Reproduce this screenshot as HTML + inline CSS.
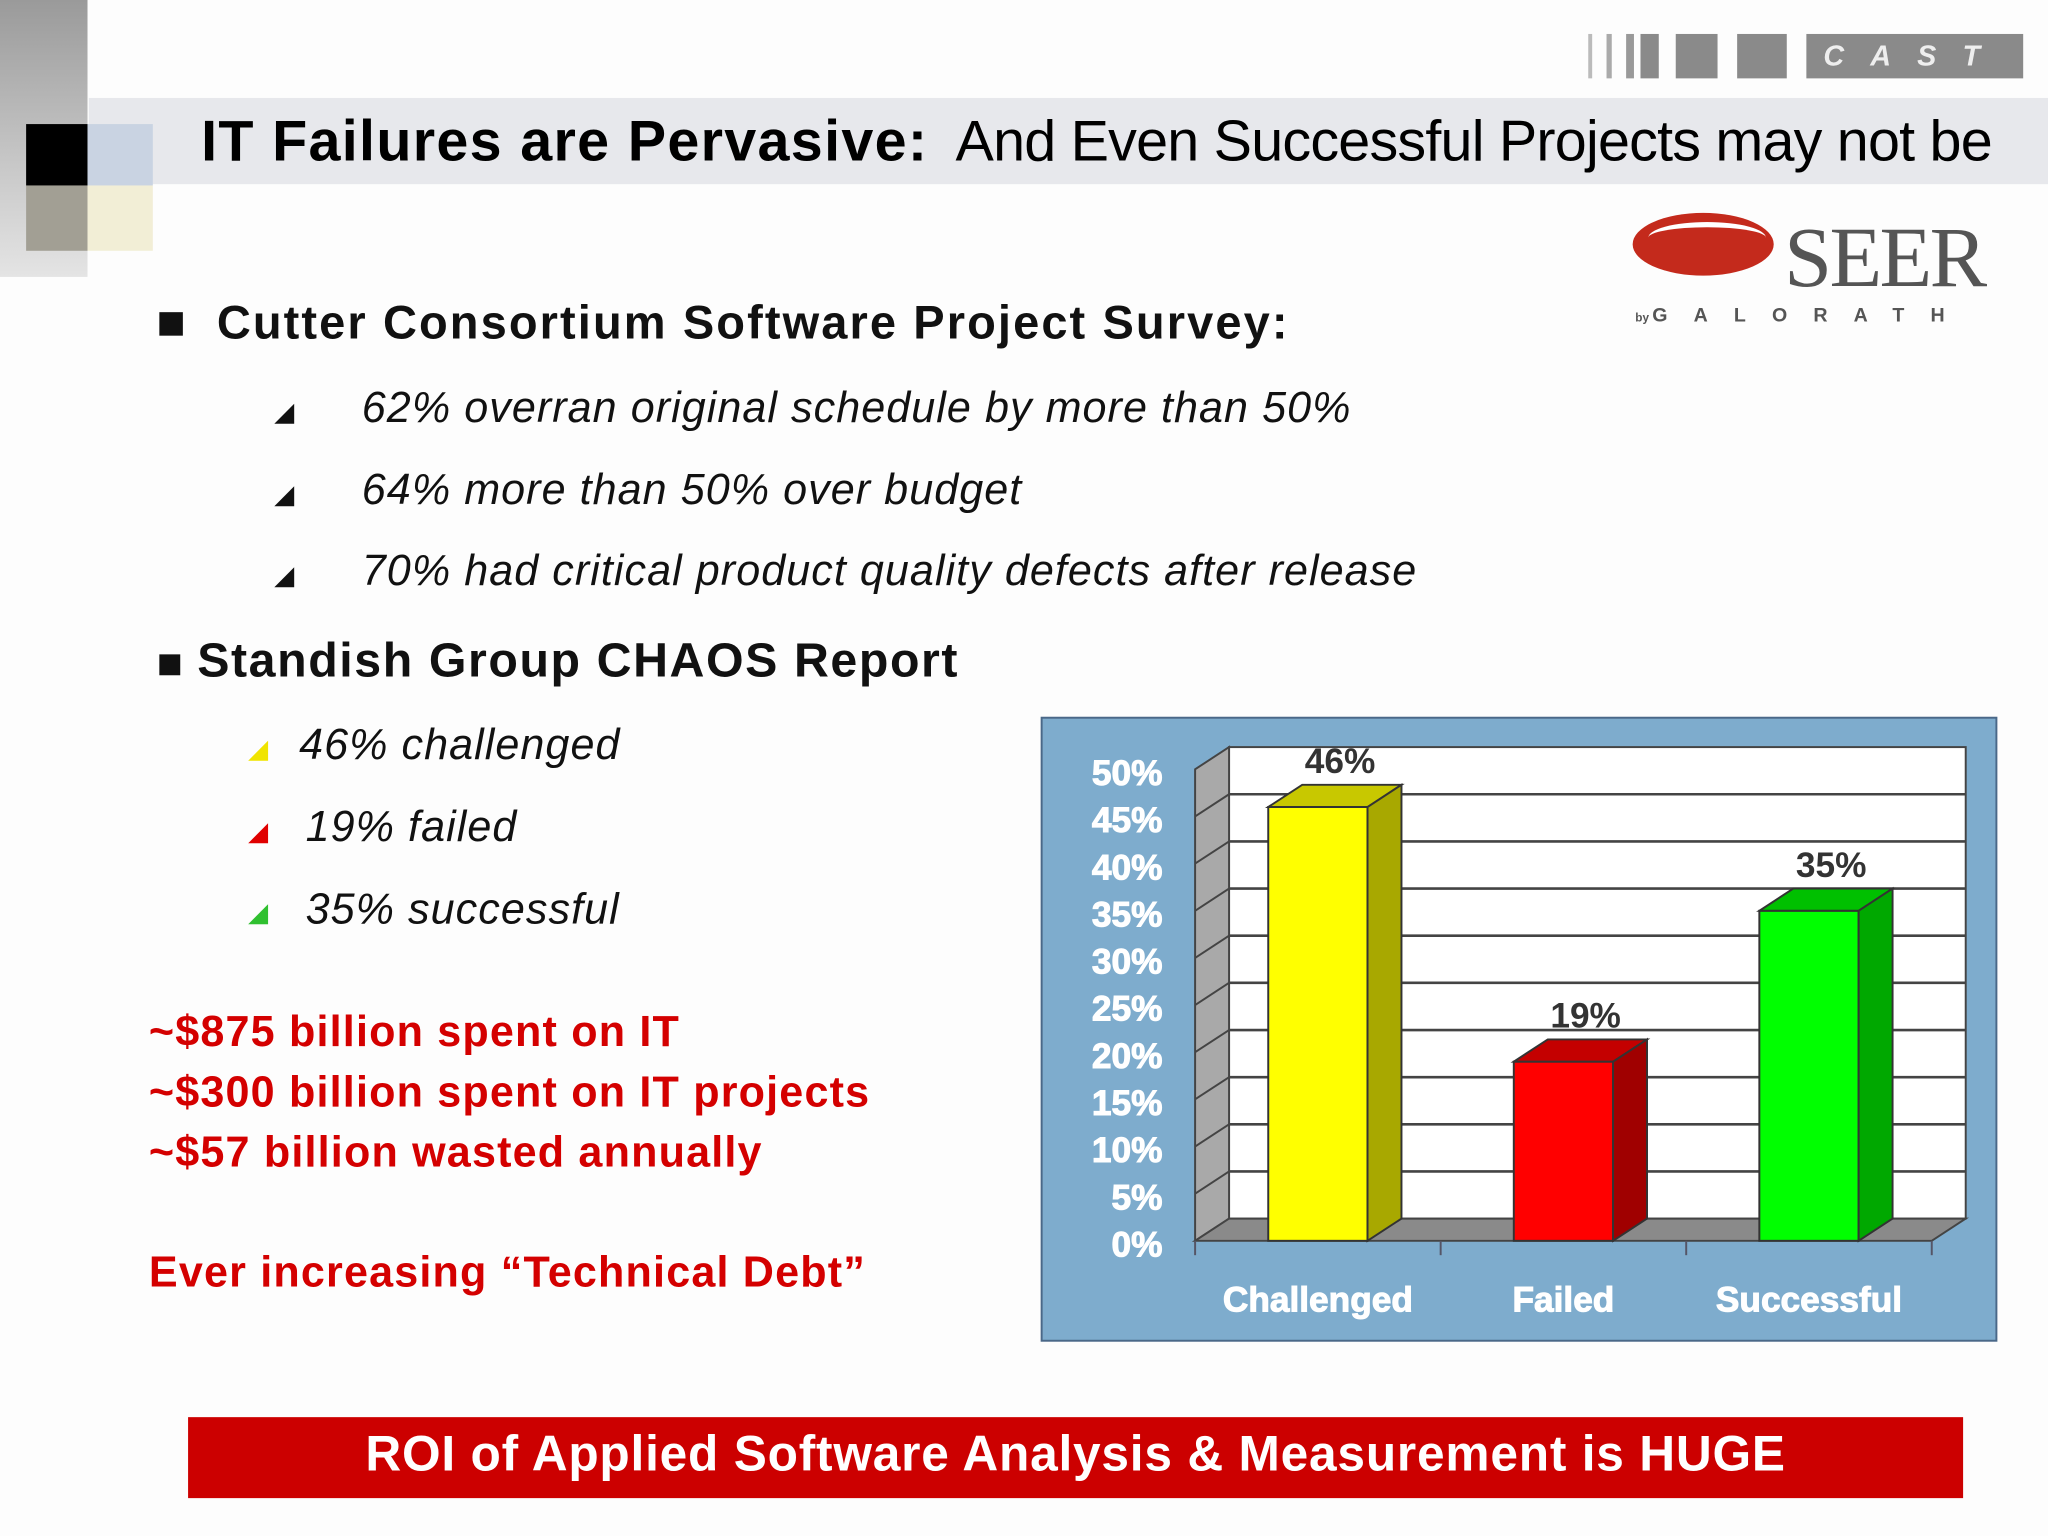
<!DOCTYPE html>
<html><head><meta charset="utf-8"><style>
html,body{margin:0;padding:0;width:2048px;height:1536px;overflow:hidden;background:#fff}
#w{position:absolute;left:0;top:0;width:1568px;height:1176px;transform:scale(1.306122);transform-origin:0 0;background:#fdfdfd;font-family:"Liberation Sans",Arial,sans-serif}
.a{position:absolute;white-space:nowrap}
.b{font-weight:bold}
.i{font-style:italic;font-size:33px;color:#111;letter-spacing:0.8px}
.red{color:#d40000;font-weight:bold;font-size:33px;letter-spacing:0.9px}
</style></head><body>
<div id="w">
  <div class="a" style="left:0;top:0;width:67px;height:212px;background:linear-gradient(#9a9a9a,#c8c8c8 60%,#e4e4e4)"></div>
  <div class="a" style="left:68px;top:75px;width:1500px;height:66px;background:#e7e8ec"></div>
  <div class="a" style="left:20px;top:95px;width:47px;height:47px;background:#000"></div>
  <div class="a" style="left:67px;top:95px;width:50px;height:47px;background:#c9d3e2"></div>
  <div class="a" style="left:20px;top:142px;width:47px;height:50px;background:#a29f94"></div>
  <div class="a" style="left:67px;top:142px;width:50px;height:50px;background:#f2eed6"></div>
  <div class="a" style="left:154px;top:84px;font-size:44px;color:#000"><b style="letter-spacing:1px">IT Failures are Pervasive:</b><span style="letter-spacing:-0.6px">&nbsp; And Even Successful Projects may not be</span></div>

  <div>
    <div class="a" style="left:1216px;top:26px;width:3px;height:34px;background:#bbb"></div>
    <div class="a" style="left:1230px;top:26px;width:4px;height:34px;background:#aaa"></div>
    <div class="a" style="left:1245px;top:26px;width:6px;height:34px;background:#999"></div>
    <div class="a" style="left:1256px;top:26px;width:14px;height:34px;background:#8a8a8a"></div>
    <div class="a" style="left:1283px;top:26px;width:32px;height:34px;background:#8a8a8a"></div>
    <div class="a" style="left:1330px;top:26px;width:38px;height:34px;background:#8a8a8a"></div>
    <div class="a b" style="left:1383px;top:26px;width:166px;height:34px;background:#8a8a8a;color:#eee;font-size:22px;line-height:34px;letter-spacing:20px;text-align:center;font-style:italic">CAST</div>
  </div>
  <div>
    <div class="a" style="left:1250px;top:163px;width:108px;height:48px;border-radius:50%;background:#c42a1c"></div>
    <div class="a" style="left:1262px;top:170px;width:90px;height:20px;border-radius:50%;border-top:4px solid #fff;"></div>
    <div class="a" style="left:1366px;top:160px;font-family:'Liberation Serif',serif;font-size:66px;color:#555;letter-spacing:-2px">SEER</div>
    <div class="a" style="left:1252px;top:233px;font-size:15px;color:#555;font-weight:bold;letter-spacing:20px"><span style="font-size:9px;letter-spacing:0">by </span> GALORATH</div>
  </div>

  <div class="a" style="left:122px;top:239px;width:18px;height:18px;background:#111"></div>
  <div class="a b" style="left:166px;top:226px;font-size:36px;color:#111;letter-spacing:1.6px">Cutter Consortium Software Project Survey:</div>
  <div class="a" style="left:210px;top:303px;font-size:20px;color:#111">◢</div>
  <div class="a i" style="left:277px;top:293px">62% overran original schedule by more than 50%</div>
  <div class="a" style="left:210px;top:366px;font-size:20px;color:#111">◢</div>
  <div class="a i" style="left:277px;top:356px">64% more than 50% over budget</div>
  <div class="a" style="left:210px;top:428px;font-size:20px;color:#111">◢</div>
  <div class="a i" style="left:277px;top:418px">70% had critical product quality defects after release</div>

  <div class="a" style="left:122px;top:501px;width:16px;height:16px;background:#111"></div>
  <div class="a b" style="left:151px;top:485px;font-size:37px;color:#111;letter-spacing:1.2px">Standish Group CHAOS Report</div>
  <div class="a" style="left:190px;top:561px;font-size:20px;color:#f0e400">◢</div>
  <div class="a i" style="left:229px;top:551px">46% challenged</div>
  <div class="a" style="left:190px;top:624px;font-size:20px;color:#e00000">◢</div>
  <div class="a i" style="left:234px;top:614px">19% failed</div>
  <div class="a" style="left:190px;top:686px;font-size:20px;color:#30c030">◢</div>
  <div class="a i" style="left:234px;top:677px">35% successful</div>

  <div class="a red" style="left:114px;top:771px">~$875 billion spent on IT</div>
  <div class="a red" style="left:114px;top:817px">~$300 billion spent on IT projects</div>
  <div class="a red" style="left:114px;top:863px">~$57 billion wasted annually</div>
  <div class="a red" style="left:114px;top:955px">Ever increasing “Technical Debt”</div>

  <div class="a b" style="left:144px;top:1085px;width:1359px;height:62px;background:#cc0000;color:#fff;font-size:38px;line-height:58px;text-align:center;letter-spacing:0.6px">ROI of Applied Software Analysis &amp; Measurement is HUGE</div>

  <svg class="a" style="left:0;top:0" width="1568" height="1176">
    <rect x="797.5" y="549.5" width="731" height="477" fill="#7eaccd" stroke="#4a6888" stroke-width="1.5"/>
    <g id="g"></g>
  </svg>
</div>
<script>
const categories=["Challenged","Failed","Successful"];
const values=[46,19,35];
const valueLabels=["46%","19%","35%"];
const yTicks=[0,5,10,15,20,25,30,35,40,45,50];
const NS="http://www.w3.org/2000/svg";
const g=document.getElementById('g');
const X0=915,X1=1479,Y0=950,PX=7.22,DX=26,DY=-17,CAT=188,BW=76,BOFF=56;
const y=v=>Y0-v*PX;
const xc=i=>X0+BOFF+i*CAT;
function el(t,a,p){const e=document.createElementNS(NS,t);for(const k in a)e.setAttribute(k,a[k]);(p||g).appendChild(e);return e;}
const poly=pts=>pts.map(p=>p.join(',')).join(' ');
const bw=el('rect',{x:X0+DX,y:y(50)+DY,width:X1-X0,height:50*PX,fill:'#fff',stroke:'#444','stroke-width':1.5});


const sw=el('polygon',{points:poly([[X0,Y0],[X0+DX,Y0+DY],[X0+DX,y(50)+DY],[X0,y(50)]]),fill:'#a9a9a9',stroke:'#444','stroke-width':1.5});


const fl=el('polygon',{points:poly([[X0,Y0],[X1,Y0],[X1+DX,Y0+DY],[X0+DX,Y0+DY]]),fill:'#8a8a8a',stroke:'#444','stroke-width':1.5});


yTicks.forEach(t=>{
  if(t>0&&t<50){const l=el('line',{x1:X0+DX,x2:X1+DX,y1:y(t)+DY,y2:y(t)+DY,stroke:'#444','stroke-width':2});
  
  }
  if(t>0&&t<50){const d=el('line',{x1:X0,x2:X0+DX,y1:y(t),y2:y(t)+DY,stroke:'#444','stroke-width':1.5});
  
  }
  const tx=el('text',{x:890,y:y(t)+12,'text-anchor':'end','font-family':'Liberation Sans, Arial, sans-serif','font-weight':'bold','font-size':27,fill:'#fff',stroke:'#fff','stroke-width':0.8});
  tx.textContent=t+'%';
  
  
});
const cols=[['#ffff00','#c8c800','#a8a800'],['#ff0000','#c40000','#a00000'],['#00ff00','#00c000','#00a800']];
values.forEach((v,i)=>{
  const x=xc(i),top=y(v);
  const front=el('rect',{x:x,y:top,width:BW,height:Y0-top,fill:cols[i][0],stroke:'#333','stroke-width':1.5});
  
  
  const tp=el('polygon',{points:poly([[x,top],[x+BW,top],[x+BW+DX,top+DY],[x+DX,top+DY]]),fill:cols[i][1],stroke:'#333','stroke-width':1.5});
  
  
  const sd=el('polygon',{points:poly([[x+BW,top],[x+BW+DX,top+DY],[x+BW+DX,Y0+DY],[x+BW,Y0]]),fill:cols[i][2],stroke:'#333','stroke-width':1.5});
  
  
  const lb=el('text',{x:x+BW/2+DX-9,y:top+DY-9,'text-anchor':'middle','font-family':'Liberation Sans, Arial, sans-serif','font-weight':'bold','font-size':27,fill:'#333'});
  lb.textContent=valueLabels[i];
  
  
  const cl=el('text',{x:x+BW/2,y:1004,'text-anchor':'middle','font-family':'Liberation Sans, Arial, sans-serif','font-weight':'bold','font-size':27,fill:'#fff',stroke:'#fff','stroke-width':0.8});
  cl.textContent=categories[i];
  
  
});
for(let i=0;i<=categories.length;i++){
  const tk=el('line',{x1:X0+i*CAT,x2:X0+i*CAT,y1:Y0,y2:Y0+11,stroke:'#556','stroke-width':1.5});
  
  
}
</script>
</body></html>
